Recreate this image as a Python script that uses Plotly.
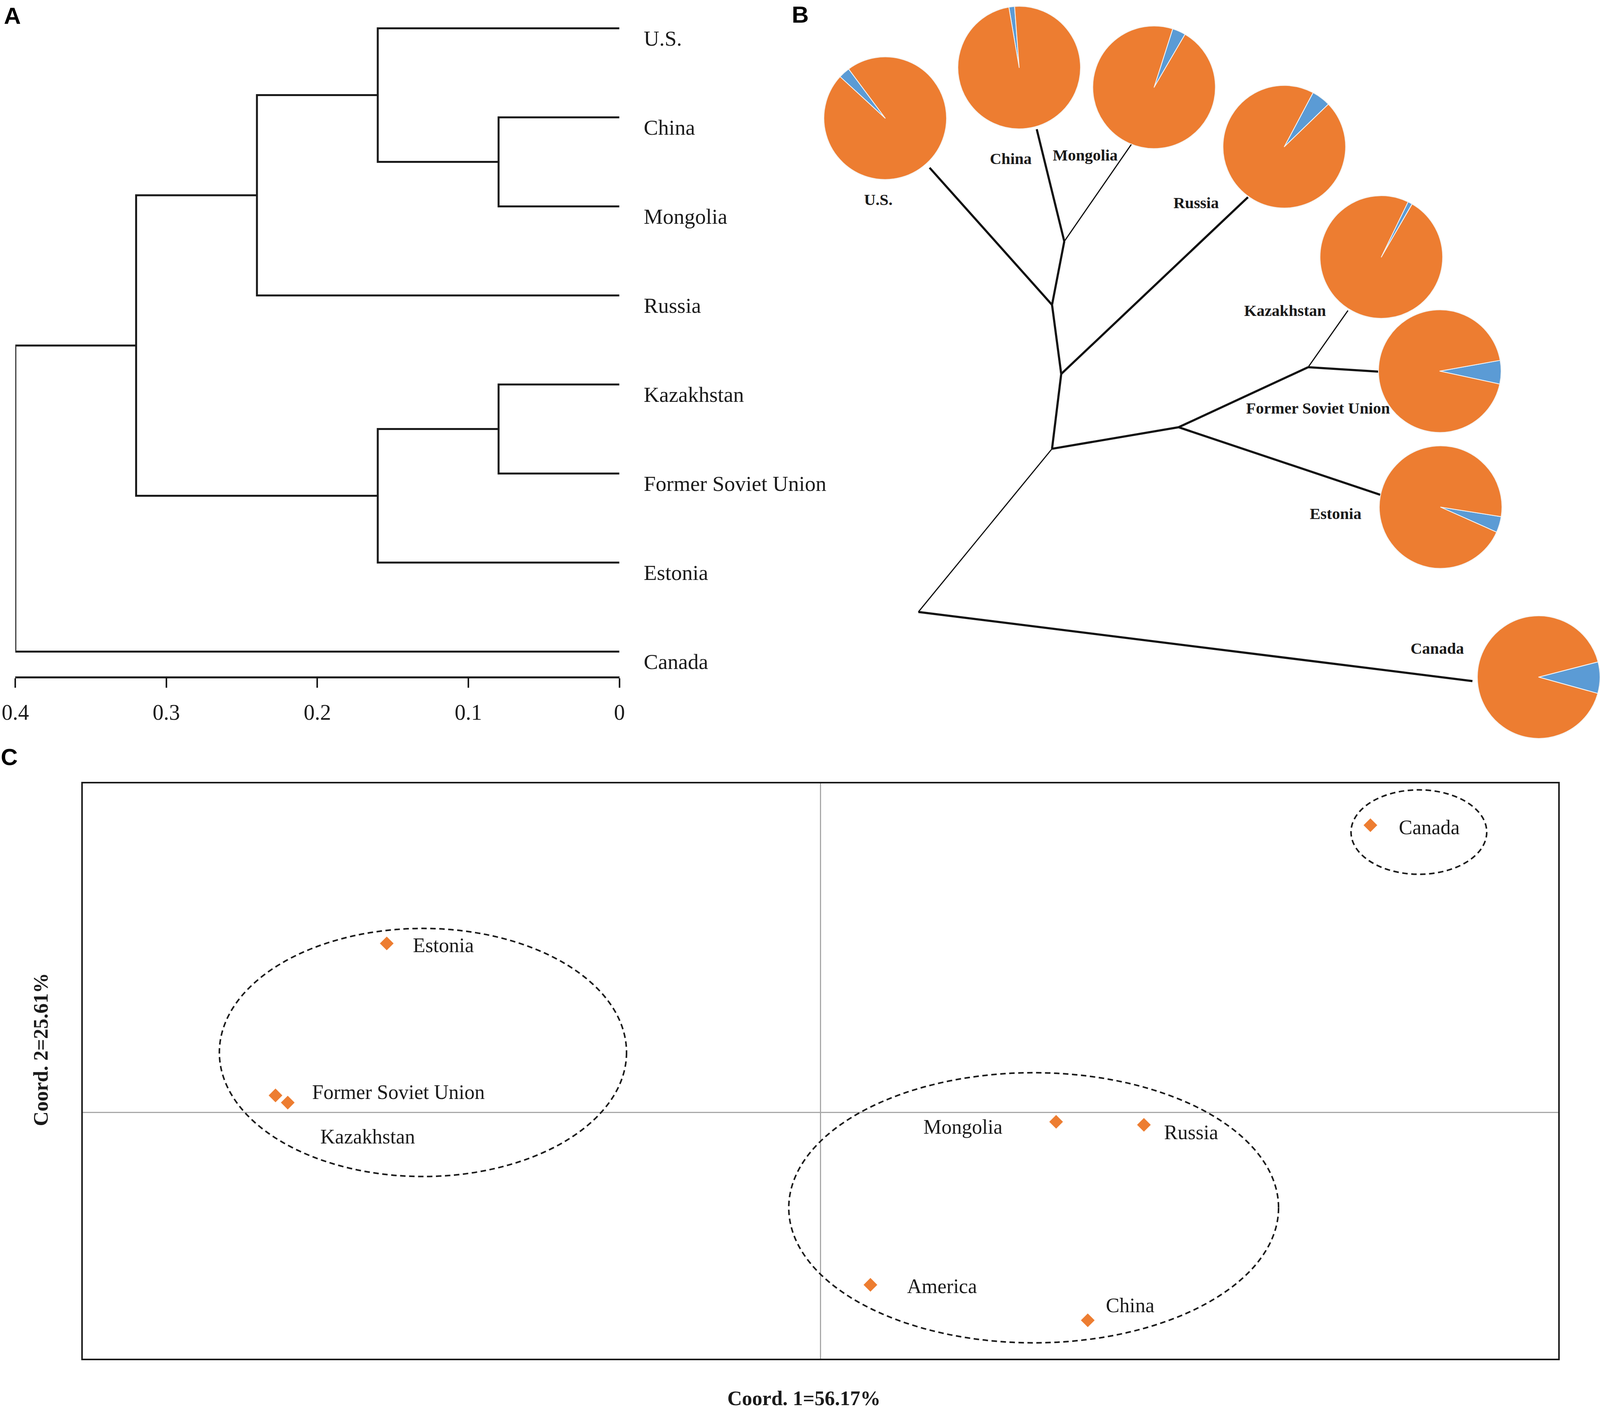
import plotly.graph_objects as go

# The rendered picture is 4096 px wide (wider pages are cut), so the figure
# is laid out at 4096 x 3613 with the reference proportions kept as fractions.
W, H = 4096, 3613
DW, DH = 1568.0, 1245.1       # reference measured in these display units
SX = W / DW                   # display unit -> output px (horizontal)
SY = H / DH                   # display unit -> output px (vertical)
FS = 0.93                     # font compromise between both scales


def px(x):
    return x / DW


def py(y):
    return 1.0 - y / DH


ORANGE = "#ED7D31"
BLUE = "#5B9BD5"
INK = "#1a1a1a"
SERIF = "Liberation Serif, Times New Roman, serif"
SANS = "Liberation Sans, Arial, sans-serif"

# ---------------- Panel A data: UPGMA dendrogram ----------------
leaves = ["U.S.", "China", "Mongolia", "Russia", "Kazakhstan",
          "Former Soviet Union", "Estonia", "Canada"]
merge_left = [1, 4, 0, 9, 10, 12, 13]
merge_right = [2, 5, 8, 6, 3, 11, 7]
merge_height = [0.08, 0.08, 0.16, 0.16, 0.24, 0.32, 0.40]
dist_ticks = [0.4, 0.3, 0.2, 0.1, 0.0]
dist_tick_labels = ["0.4", "0.3", "0.2", "0.1", "0"]

# ---------------- Panel B data: unrooted tree + pies ----------------
tree_node_names = ["root", "n1", "n2", "n3", "n4", "ne", "nk",
                   "U.S.", "China", "Mongolia", "Russia", "Kazakhstan",
                   "Former Soviet Union", "Estonia", "Canada"]
tree_node_x = [900, 1031, 1040, 1031, 1043, 1155, 1282,
               911, 1016, 1109, 1223, 1321, 1352, 1354, 1443]
tree_node_y = [540, 396, 330, 269, 213, 377, 324,
               148, 114, 127, 174, 274, 328, 437, 601]
tree_edge_from = ["root", "root", "n1", "n1", "n2", "n2", "n3", "n3",
                  "n4", "n4", "ne", "ne", "nk", "nk"]
tree_edge_to = ["Canada", "n1", "n2", "ne", "n3", "Russia", "U.S.", "n4",
                "China", "Mongolia", "nk", "Estonia", "Kazakhstan",
                "Former Soviet Union"]
tree_edge_thin = [False, True, False, False, False, False, False, False,
                  False, True, False, False, True, False]

pie_countries = ["U.S.", "China", "Mongolia", "Russia", "Kazakhstan",
                 "Former Soviet Union", "Estonia", "Canada"]
pie_blue_pct = [3.0, 1.5, 3.5, 5.0, 1.2, 6.2, 4.2, 8.3]
pie_orange_pct = [100.0 - b for b in pie_blue_pct]

# ---------------- Panel C data: PCoA ----------------
pcoa_labels = ["Canada", "Estonia", "Former Soviet Union", "Kazakhstan",
               "Mongolia", "Russia", "America", "China"]
coord1 = [0.7455, -0.5878, -0.7386, -0.7220, 0.3195, 0.4385, 0.0678, 0.3624]
coord2 = [0.3505, 0.2062, 0.0207, 0.0119, -0.0115, -0.0152, -0.2105, -0.2538]
cluster_x0 = [-0.8147, -0.0429, 0.7192]
cluster_x1 = [-0.2628, 0.6210, 0.9032]
cluster_y0 = [-0.0783, -0.2813, 0.2906]
cluster_y1 = [0.2245, 0.0484, 0.3936]

# ---------------- layout / style lists (positions, not data) ----------------
pie_cx = [867.5, 998.8, 1131.0, 1258.6, 1353.7, 1411.0, 1411.8, 1508.5]
pie_cy = [104.3, 59.6, 77.0, 129.5, 226.8, 327.5, 447.5, 597.5]
pie_r_px = 157.0
pie_blue_center_deg = [318, 353, 24, 37, 28, 91, 106.5, 90.5]
pie_label_x = [860.8, 990.7, 1063.5, 1172.0, 1259.6, 1291.7, 1308.7, 1408.5]
pie_label_y = [176.0, 140.0, 136.8, 179.0, 274.0, 360.0, 453.0, 572.0]

pcoa_label_anchor = ["left", "left", "left", "left", "right", "left", "left", "left"]
pcoa_label_dx = [27, 25, 35, 31, -52, 19, 35, 17]
pcoa_label_dy = [2, 1.5, -3, 30, 4.6, 6.7, 1.1, -13.2]

fig = go.Figure()

# ---------------- Panel A ----------------
ypos = {i: float(i) for i in range(len(leaves))}
hgt = {i: 0.0 for i in range(len(leaves))}
seg_x, seg_y = [], []
for k, (l, r, h) in enumerate(zip(merge_left, merge_right, merge_height)):
    cid = len(leaves) + k
    ypos[cid] = (ypos[l] + ypos[r]) / 2.0
    hgt[cid] = h
    seg_x += [hgt[l], h, h, hgt[r], None]
    seg_y += [ypos[l], ypos[l], ypos[r], ypos[r], None]

fig.add_trace(go.Scatter(x=seg_x, y=seg_y, mode="lines",
                         line=dict(color=INK, width=5),
                         xaxis="x", yaxis="y", hoverinfo="skip", showlegend=False))

row_px = (575.0 - 25.0) / (len(leaves) - 1)
annotations = []
for i, name in enumerate(leaves):
    annotations.append(dict(x=0, y=i, xref="x", yref="y", text=name,
                            showarrow=False, xanchor="left", yanchor="middle",
                            xshift=23 * SX, yshift=-9 * SY,
                            font=dict(family=SERIF, size=55, color=INK)))

# ---------------- Panel B ----------------
node_idx = {n: i for i, n in enumerate(tree_node_names)}
for thin in (False, True):
    ex, ey = [], []
    for a, b, t in zip(tree_edge_from, tree_edge_to, tree_edge_thin):
        if t != thin:
            continue
        ia, ib = node_idx[a], node_idx[b]
        ex += [tree_node_x[ia], tree_node_x[ib], None]
        ey += [tree_node_y[ia], tree_node_y[ib], None]
    fig.add_trace(go.Scatter(x=ex, y=ey, mode="lines",
                             line=dict(color="#111111", width=3 if thin else 5.5),
                             xaxis="x2", yaxis="y2", hoverinfo="skip", showlegend=False))

hx, hy = pie_r_px / W, pie_r_px / H
for i, name in enumerate(pie_countries):
    frac = pie_blue_pct[i] / 100.0
    rot = pie_blue_center_deg[i] - frac * 360.0 / 2.0
    cx = min(max(px(pie_cx[i]), hx), 1.0 - hx)
    cy = min(max(py(pie_cy[i]), hy), 1.0 - hy)
    fig.add_trace(go.Pie(values=[pie_blue_pct[i], pie_orange_pct[i]],
                         labels=["blue", "orange"], sort=False,
                         direction="clockwise", rotation=rot,
                         marker=dict(colors=[BLUE, ORANGE],
                                     line=dict(color="#f4f4f4", width=2)),
                         textinfo="none", hoverinfo="skip", showlegend=False,
                         domain=dict(x=[cx - hx, cx + hx], y=[cy - hy, cy + hy])))
    annotations.append(dict(x=px(pie_label_x[i]), y=py(pie_label_y[i]),
                            xref="paper", yref="paper", text="<b>%s</b>" % name,
                            showarrow=False, xanchor="center", yanchor="middle",
                            font=dict(family=SERIF, size=round(44 * FS), color=INK)))

# ---------------- Panel C ----------------
fig.add_trace(go.Scatter(x=coord1, y=coord2, mode="markers",
                         marker=dict(symbol="diamond", size=27, color=ORANGE),
                         xaxis="x3", yaxis="y3", hoverinfo="skip", showlegend=False))

for i, name in enumerate(pcoa_labels):
    annotations.append(dict(x=coord1[i], y=coord2[i], xref="x3", yref="y3",
                            text=name, showarrow=False,
                            xanchor=pcoa_label_anchor[i], yanchor="middle",
                            xshift=pcoa_label_dx[i] * SX,
                            yshift=-pcoa_label_dy[i] * SY,
                            font=dict(family=SERIF, size=round(56 * FS), color=INK)))

shapes = []
for x0, x1, y0, y1 in zip(cluster_x0, cluster_x1, cluster_y0, cluster_y1):
    shapes.append(dict(type="circle", xref="x3", yref="y3",
                       x0=x0, x1=x1, y0=y0, y1=y1,
                       line=dict(color=INK, width=4, dash="14px,9px")))

annotations.append(dict(x=px(788), y=py(1234), xref="paper", yref="paper",
                        text="<b>Coord. 1=56.17%</b>", showarrow=False,
                        xanchor="center", yanchor="middle",
                        font=dict(family=SERIF, size=round(56 * FS), color=INK)))
annotations.append(dict(x=px(40), y=py(926), xref="paper", yref="paper",
                        text="<b>Coord. 2=25.61%</b>", showarrow=False,
                        textangle=-90, xanchor="center", yanchor="middle",
                        font=dict(family=SERIF, size=round(56 * FS), color=INK)))

# panel letters
for letter, lx, ly in (("A", 12, 14), ("B", 784, 13), ("C", 9, 668)):
    annotations.append(dict(x=px(lx), y=py(ly), xref="paper", yref="paper",
                            text="<b>%s</b>" % letter, showarrow=False,
                            xanchor="center", yanchor="middle",
                            font=dict(family=SANS, size=round(64 * FS), color="black")))

fig.update_layout(
    width=W, height=H,
    margin=dict(l=0, r=0, t=0, b=0, autoexpand=False),
    paper_bgcolor="white", plot_bgcolor="rgba(0,0,0,0)",
    showlegend=False,
    xaxis=dict(domain=[px(15), px(607)], range=[0.4, 0.0], anchor="y",
               automargin=False,
               tickvals=dist_ticks, ticktext=dist_tick_labels,
               showline=True, linecolor=INK, linewidth=5,
               ticks="outside", ticklen=24, tickwidth=4, tickcolor=INK,
               ticklabelstandoff=14,
               tickfont=dict(family=SERIF, size=round(60 * FS), color=INK),
               showgrid=False, zeroline=False),
    yaxis=dict(domain=[py(597), 1.0],
               range=[(597.0 - 25.0) / row_px, -25.0 / row_px],
               anchor="x", visible=False, automargin=False),
    xaxis2=dict(domain=[0, 1], range=[0, DW], anchor="y2", visible=False,
                automargin=False),
    yaxis2=dict(domain=[0, 1], range=[DH, 0], anchor="x2", visible=False,
                automargin=False),
    xaxis3=dict(domain=[px(81), px(1527)], range=[-1.0, 1.0], anchor="y3",
                automargin=False,
                showline=True, mirror=True, linecolor=INK, linewidth=4,
                zeroline=True, zerolinecolor="#A8A8A8", zerolinewidth=3,
                showticklabels=False, ticks="", showgrid=False),
    yaxis3=dict(domain=[py(1198.9), py(691.3)], range=[-0.3006, 0.4015], anchor="x3",
                automargin=False,
                showline=True, mirror=True, linecolor=INK, linewidth=4,
                zeroline=True, zerolinecolor="#A8A8A8", zerolinewidth=3,
                showticklabels=False, ticks="", showgrid=False),
    annotations=annotations,
    shapes=shapes,
)

fig.write_html("out.html", config={"displayModeBar": False},
               post_script="document.body.style.margin='0';")
